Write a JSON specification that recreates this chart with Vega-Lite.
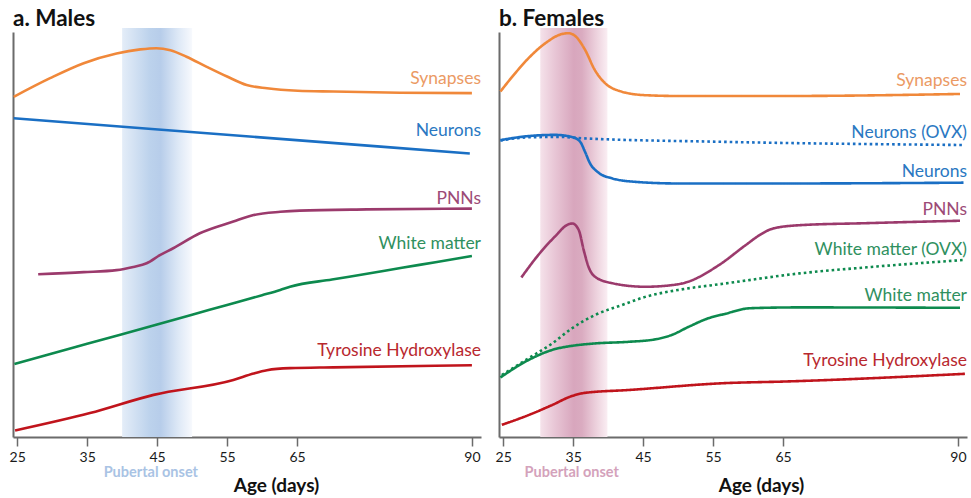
{
  "$schema": "https://vega.github.io/schema/vega-lite/v6.json",
  "background": "white",
  "padding": {"left": 8, "top": 8, "right": 2, "bottom": 0},
  "spacing": 14,
  "config": {
    "font": "Lato",
    "view": {"stroke": null},
    "title": {"anchor": "start", "fontSize": 22.5, "fontWeight": "bold", "color": "#111111", "offset": -3, "baseline": "alphabetic", "frame": "group"}
  },
  "datasets": {
    "males": [
      {"series": "Synapses", "day": 24.5, "level": 84.0},
      {"series": "Synapses", "day": 29.7, "level": 88.6},
      {"series": "Synapses", "day": 34.5, "level": 92.3},
      {"series": "Synapses", "day": 39.2, "level": 94.7},
      {"series": "Synapses", "day": 42.6, "level": 95.7},
      {"series": "Synapses", "day": 44.9, "level": 96.0},
      {"series": "Synapses", "day": 46.9, "level": 95.5},
      {"series": "Synapses", "day": 49.2, "level": 93.9},
      {"series": "Synapses", "day": 52.1, "level": 91.4},
      {"series": "Synapses", "day": 55.0, "level": 89.0},
      {"series": "Synapses", "day": 57.8, "level": 86.9},
      {"series": "Synapses", "day": 60.7, "level": 86.1},
      {"series": "Synapses", "day": 65.1, "level": 85.5},
      {"series": "Synapses", "day": 70.2, "level": 85.3},
      {"series": "Synapses", "day": 79.7, "level": 85.0},
      {"series": "Synapses", "day": 90.0, "level": 84.9},
      {"series": "Neurons", "day": 24.5, "level": 78.7},
      {"series": "Neurons", "day": 44.7, "level": 76.0},
      {"series": "Neurons", "day": 89.7, "level": 70.0},
      {"series": "PNNs", "day": 28.0, "level": 40.2},
      {"series": "PNNs", "day": 34.5, "level": 40.7},
      {"series": "PNNs", "day": 39.2, "level": 41.2},
      {"series": "PNNs", "day": 41.6, "level": 42.0},
      {"series": "PNNs", "day": 43.5, "level": 42.9},
      {"series": "PNNs", "day": 45.4, "level": 44.9},
      {"series": "PNNs", "day": 47.3, "level": 46.6},
      {"series": "PNNs", "day": 51.1, "level": 50.3},
      {"series": "PNNs", "day": 55.9, "level": 53.2},
      {"series": "PNNs", "day": 58.8, "level": 54.8},
      {"series": "PNNs", "day": 62.6, "level": 55.6},
      {"series": "PNNs", "day": 65.4, "level": 55.9},
      {"series": "PNNs", "day": 75.0, "level": 56.2},
      {"series": "PNNs", "day": 90.0, "level": 56.4},
      {"series": "White matter", "day": 24.6, "level": 18.0},
      {"series": "White matter", "day": 30.0, "level": 20.6},
      {"series": "White matter", "day": 35.0, "level": 23.0},
      {"series": "White matter", "day": 40.0, "level": 25.4},
      {"series": "White matter", "day": 45.0, "level": 27.8},
      {"series": "White matter", "day": 50.0, "level": 30.2},
      {"series": "White matter", "day": 55.0, "level": 32.6},
      {"series": "White matter", "day": 60.0, "level": 35.0},
      {"series": "White matter", "day": 62.6, "level": 36.3},
      {"series": "White matter", "day": 64.0, "level": 37.1},
      {"series": "White matter", "day": 70.0, "level": 38.9},
      {"series": "White matter", "day": 75.0, "level": 40.3},
      {"series": "White matter", "day": 80.0, "level": 41.8},
      {"series": "White matter", "day": 85.0, "level": 43.2},
      {"series": "White matter", "day": 90.0, "level": 44.7},
      {"series": "Tyrosine Hydroxylase", "day": 24.7, "level": 1.6},
      {"series": "Tyrosine Hydroxylase", "day": 35.4, "level": 5.9},
      {"series": "Tyrosine Hydroxylase", "day": 44.5, "level": 10.4},
      {"series": "Tyrosine Hydroxylase", "day": 55.9, "level": 14.1},
      {"series": "Tyrosine Hydroxylase", "day": 58.8, "level": 15.7},
      {"series": "Tyrosine Hydroxylase", "day": 60.7, "level": 16.5},
      {"series": "Tyrosine Hydroxylase", "day": 64.0, "level": 17.0},
      {"series": "Tyrosine Hydroxylase", "day": 70.2, "level": 17.2},
      {"series": "Tyrosine Hydroxylase", "day": 90.0, "level": 17.7}
    ],
    "females": [
      {"series": "Synapses", "day": 24.6, "level": 85.3},
      {"series": "Synapses", "day": 26.7, "level": 89.8},
      {"series": "Synapses", "day": 28.6, "level": 93.5},
      {"series": "Synapses", "day": 31.0, "level": 97.2},
      {"series": "Synapses", "day": 33.4, "level": 99.5},
      {"series": "Synapses", "day": 34.3, "level": 99.7},
      {"series": "Synapses", "day": 35.3, "level": 99.0},
      {"series": "Synapses", "day": 36.7, "level": 95.6},
      {"series": "Synapses", "day": 38.1, "level": 90.6},
      {"series": "Synapses", "day": 39.6, "level": 87.3},
      {"series": "Synapses", "day": 41.5, "level": 85.5},
      {"series": "Synapses", "day": 45.3, "level": 84.4},
      {"series": "Synapses", "day": 50.0, "level": 84.2},
      {"series": "Synapses", "day": 65.3, "level": 84.2},
      {"series": "Synapses", "day": 90.3, "level": 84.7},
      {"series": "Neurons (OVX)", "day": 24.6, "level": 73.2},
      {"series": "Neurons (OVX)", "day": 28.6, "level": 74.0},
      {"series": "Neurons (OVX)", "day": 33.4, "level": 74.1},
      {"series": "Neurons (OVX)", "day": 35.8, "level": 73.8},
      {"series": "Neurons (OVX)", "day": 55.8, "level": 72.9},
      {"series": "Neurons (OVX)", "day": 90.8, "level": 72.1},
      {"series": "Neurons", "day": 24.6, "level": 73.3},
      {"series": "Neurons", "day": 28.6, "level": 74.3},
      {"series": "Neurons", "day": 32.4, "level": 74.6},
      {"series": "Neurons", "day": 34.8, "level": 74.1},
      {"series": "Neurons", "day": 36.0, "level": 72.9},
      {"series": "Neurons", "day": 36.7, "level": 70.4},
      {"series": "Neurons", "day": 37.4, "level": 67.6},
      {"series": "Neurons", "day": 38.6, "level": 65.3},
      {"series": "Neurons", "day": 40.5, "level": 63.9},
      {"series": "Neurons", "day": 43.9, "level": 63.0},
      {"series": "Neurons", "day": 50.0, "level": 62.6},
      {"series": "Neurons", "day": 65.3, "level": 62.6},
      {"series": "Neurons", "day": 90.8, "level": 62.8},
      {"series": "PNNs", "day": 27.6, "level": 39.4},
      {"series": "PNNs", "day": 30.0, "level": 44.9},
      {"series": "PNNs", "day": 32.4, "level": 49.5},
      {"series": "PNNs", "day": 34.3, "level": 52.5},
      {"series": "PNNs", "day": 34.9, "level": 52.7},
      {"series": "PNNs", "day": 35.8, "level": 51.1},
      {"series": "PNNs", "day": 36.5, "level": 46.2},
      {"series": "PNNs", "day": 37.2, "level": 42.0},
      {"series": "PNNs", "day": 38.1, "level": 39.6},
      {"series": "PNNs", "day": 40.5, "level": 38.0},
      {"series": "PNNs", "day": 45.3, "level": 37.1},
      {"series": "PNNs", "day": 49.1, "level": 37.5},
      {"series": "PNNs", "day": 51.0, "level": 38.1},
      {"series": "PNNs", "day": 55.8, "level": 42.4},
      {"series": "PNNs", "day": 59.6, "level": 47.3},
      {"series": "PNNs", "day": 61.7, "level": 49.9},
      {"series": "PNNs", "day": 63.6, "level": 51.5},
      {"series": "PNNs", "day": 67.4, "level": 52.3},
      {"series": "PNNs", "day": 77.0, "level": 52.8},
      {"series": "PNNs", "day": 90.3, "level": 53.4},
      {"series": "White matter (OVX)", "day": 24.8, "level": 15.3},
      {"series": "White matter (OVX)", "day": 28.6, "level": 19.4},
      {"series": "White matter (OVX)", "day": 32.0, "level": 23.1},
      {"series": "White matter (OVX)", "day": 34.8, "level": 26.8},
      {"series": "White matter (OVX)", "day": 38.1, "level": 30.1},
      {"series": "White matter (OVX)", "day": 42.0, "level": 32.6},
      {"series": "White matter (OVX)", "day": 45.3, "level": 34.6},
      {"series": "White matter (OVX)", "day": 50.0, "level": 36.3},
      {"series": "White matter (OVX)", "day": 56.7, "level": 37.9},
      {"series": "White matter (OVX)", "day": 67.4, "level": 40.4},
      {"series": "White matter (OVX)", "day": 77.0, "level": 41.9},
      {"series": "White matter (OVX)", "day": 90.8, "level": 43.7},
      {"series": "White matter", "day": 24.6, "level": 14.7},
      {"series": "White matter", "day": 28.6, "level": 19.0},
      {"series": "White matter", "day": 32.4, "level": 21.7},
      {"series": "White matter", "day": 34.8, "level": 22.5},
      {"series": "White matter", "day": 38.1, "level": 23.1},
      {"series": "White matter", "day": 42.9, "level": 23.5},
      {"series": "White matter", "day": 46.7, "level": 24.1},
      {"series": "White matter", "day": 49.1, "level": 25.2},
      {"series": "White matter", "day": 51.5, "level": 27.2},
      {"series": "White matter", "day": 54.3, "level": 29.3},
      {"series": "White matter", "day": 56.7, "level": 30.4},
      {"series": "White matter", "day": 60.3, "level": 31.8},
      {"series": "White matter", "day": 67.4, "level": 32.0},
      {"series": "White matter", "day": 90.3, "level": 31.9},
      {"series": "Tyrosine Hydroxylase", "day": 24.8, "level": 3.0},
      {"series": "Tyrosine Hydroxylase", "day": 28.6, "level": 5.4},
      {"series": "Tyrosine Hydroxylase", "day": 32.0, "level": 7.9},
      {"series": "Tyrosine Hydroxylase", "day": 34.8, "level": 10.1},
      {"series": "Tyrosine Hydroxylase", "day": 36.7, "level": 10.9},
      {"series": "Tyrosine Hydroxylase", "day": 42.9, "level": 11.6},
      {"series": "Tyrosine Hydroxylase", "day": 56.7, "level": 13.3},
      {"series": "Tyrosine Hydroxylase", "day": 65.3, "level": 13.7},
      {"series": "Tyrosine Hydroxylase", "day": 91.0, "level": 15.6}
    ],
    "malesLabels": [
      {"series": "Synapses", "day": 91.3, "level": 87.2},
      {"series": "Neurons", "day": 91.3, "level": 74.3},
      {"series": "PNNs", "day": 91.3, "level": 57.5},
      {"series": "White matter", "day": 91.3, "level": 46.5},
      {"series": "Tyrosine Hydroxylase", "day": 91.3, "level": 20.0}
    ],
    "femalesLabels": [
      {"series": "Synapses", "day": 91.3, "level": 86.7},
      {"series": "Neurons (OVX)", "day": 91.3, "level": 73.8},
      {"series": "Neurons", "day": 91.3, "level": 64.1},
      {"series": "PNNs", "day": 91.3, "level": 54.8},
      {"series": "White matter (OVX)", "day": 91.3, "level": 44.9},
      {"series": "White matter", "day": 91.3, "level": 33.7},
      {"series": "Tyrosine Hydroxylase", "day": 91.3, "level": 17.5}
    ]
  },
  "hconcat": [
    {
      "title": {"text": "a. Males"},
      "width": 468,
      "height": 405,
      "resolve": {"scale": {"color": "independent"}},
      "layer": [
        {
          "data": {"values": [{"start": 40, "end": 50}]},
          "mark": {"type": "rect", "fill": {"gradient": "linear", "x1": 0, "y1": 0, "x2": 1, "y2": 0, "stops": [
            {"offset": 0, "color": "#e4edf8"},
            {"offset": 0.4, "color": "#bcd2ec"},
            {"offset": 0.55, "color": "#b7cdea"},
            {"offset": 0.8, "color": "#dde8f6"},
            {"offset": 1, "color": "#f7f9fd"}
          ]}},
          "encoding": {
            "x": {"field": "start", "type": "quantitative", "scale": {"domain": [24.4, 91.3], "nice": false, "zero": false},
              "axis": {"values": [25, 35, 45, 55, 65, 90], "title": "Age (days)", "grid": false, "domainColor": "#6b6b6b", "domainWidth": 2, "tickColor": "#6b6b6b", "tickWidth": 1.5, "tickSize": 9, "labelFontSize": 14, "labelColor": "#1a1a1a", "labelPadding": 4, "titleFontSize": 19, "titleFontWeight": "bold", "titleColor": "#111111", "titleX": 263, "titleY": 54, "titleBaseline": "alphabetic", "titleAlign": "center"}},
            "x2": {"field": "end"},
            "y": {"datum": 101, "type": "quantitative", "scale": {"domain": [0, 100], "nice": false, "zero": false},
              "axis": {"title": null, "labels": false, "ticks": false, "grid": false, "domainColor": "#6b6b6b", "domainWidth": 2, "minExtent": 0, "maxExtent": 0}},
            "y2": {"datum": 0}
          }
        },
        {
          "data": {"values": [{"day": 44.1, "level": -9.9, "note": "Pubertal onset"}]},
          "mark": {"type": "text", "align": "center", "baseline": "alphabetic", "fontSize": 14.5, "fontWeight": "bold", "color": "#a9c3e4"},
          "encoding": {
            "x": {"field": "day", "type": "quantitative"},
            "y": {"field": "level", "type": "quantitative"},
            "text": {"field": "note"}
          }
        },
        {
          "data": {"name": "males"},
          "mark": {"type": "line", "strokeWidth": 2.6, "interpolate": "monotone"},
          "encoding": {
            "x": {"field": "day", "type": "quantitative"},
            "y": {"field": "level", "type": "quantitative"},
            "color": {"field": "series", "type": "nominal", "legend": null,
              "scale": {"domain": ["Synapses", "Neurons", "PNNs", "White matter", "Tyrosine Hydroxylase"],
                "range": ["#f0883a", "#1a6fc4", "#9b3a6c", "#0d8a4e", "#c0141c"]}}
          }
        },
        {
          "data": {"name": "malesLabels"},
          "mark": {"type": "text", "align": "right", "baseline": "alphabetic", "fontSize": 17.5},
          "encoding": {
            "x": {"field": "day", "type": "quantitative"},
            "y": {"field": "level", "type": "quantitative"},
            "text": {"field": "series"},
            "color": {"field": "series", "type": "nominal", "legend": null,
              "scale": {"domain": ["Synapses", "Neurons", "PNNs", "White matter", "Tyrosine Hydroxylase"],
                "range": ["#eb9a64", "#2a78c2", "#9c4a76", "#2f9060", "#b8282e"]}}
          }
        }
      ]
    },
    {
      "title": {"text": "b. Females"},
      "width": 468,
      "height": 405,
      "resolve": {"scale": {"color": "independent"}},
      "layer": [
        {
          "data": {"values": [{"start": 30.3, "end": 39.9}]},
          "mark": {"type": "rect", "fill": {"gradient": "linear", "x1": 0, "y1": 0, "x2": 1, "y2": 0, "stops": [
            {"offset": 0, "color": "#f5e2ea"},
            {"offset": 0.2, "color": "#e9c8d7"},
            {"offset": 0.5, "color": "#d8a6bd"},
            {"offset": 0.62, "color": "#daabc0"},
            {"offset": 0.85, "color": "#eed4df"},
            {"offset": 1, "color": "#faeef3"}
          ]}},
          "encoding": {
            "x": {"field": "start", "type": "quantitative", "scale": {"domain": [24.4, 91.3], "nice": false, "zero": false},
              "axis": {"values": [25, 35, 45, 55, 65, 90], "title": "Age (days)", "grid": false, "domainColor": "#6b6b6b", "domainWidth": 2, "tickColor": "#6b6b6b", "tickWidth": 1.5, "tickSize": 9, "labelFontSize": 14, "labelColor": "#1a1a1a", "labelPadding": 4, "titleFontSize": 19, "titleFontWeight": "bold", "titleColor": "#111111", "titleX": 262, "titleY": 54, "titleBaseline": "alphabetic", "titleAlign": "center"}},
            "x2": {"field": "end"},
            "y": {"datum": 101, "type": "quantitative", "scale": {"domain": [0, 100], "nice": false, "zero": false},
              "axis": {"title": null, "labels": false, "ticks": false, "grid": false, "domainColor": "#6b6b6b", "domainWidth": 2, "minExtent": 0, "maxExtent": 0}},
            "y2": {"datum": 0}
          }
        },
        {
          "data": {"values": [{"day": 34.8, "level": -9.9, "note": "Pubertal onset"}]},
          "mark": {"type": "text", "align": "center", "baseline": "alphabetic", "fontSize": 14.5, "fontWeight": "bold", "color": "#d4a2bb"},
          "encoding": {
            "x": {"field": "day", "type": "quantitative"},
            "y": {"field": "level", "type": "quantitative"},
            "text": {"field": "note"}
          }
        },
        {
          "data": {"name": "females"},
          "mark": {"type": "line", "strokeWidth": 2.6, "interpolate": "monotone"},
          "encoding": {
            "x": {"field": "day", "type": "quantitative"},
            "y": {"field": "level", "type": "quantitative"},
            "color": {"field": "series", "type": "nominal", "legend": null,
              "scale": {"domain": ["Synapses", "Neurons (OVX)", "Neurons", "PNNs", "White matter (OVX)", "White matter", "Tyrosine Hydroxylase"],
                "range": ["#f0883a", "#1a6fc4", "#1a6fc4", "#9b3a6c", "#0d8a4e", "#0d8a4e", "#c0141c"]}},
            "strokeDash": {"field": "series", "type": "nominal", "legend": null,
              "scale": {"domain": ["Synapses", "Neurons (OVX)", "Neurons", "PNNs", "White matter (OVX)", "White matter", "Tyrosine Hydroxylase"],
                "range": [[1, 0], [2.6, 3], [1, 0], [1, 0], [2.6, 3], [1, 0], [1, 0]]}}
          }
        },
        {
          "data": {"name": "femalesLabels"},
          "mark": {"type": "text", "align": "right", "baseline": "alphabetic", "fontSize": 17.5},
          "encoding": {
            "x": {"field": "day", "type": "quantitative"},
            "y": {"field": "level", "type": "quantitative"},
            "text": {"field": "series"},
            "color": {"field": "series", "type": "nominal", "legend": null,
              "scale": {"domain": ["Synapses", "Neurons (OVX)", "Neurons", "PNNs", "White matter (OVX)", "White matter", "Tyrosine Hydroxylase"],
                "range": ["#eb9a64", "#2a78c2", "#2a78c2", "#9c4a76", "#2f9060", "#2f9060", "#b8282e"]}}
          }
        }
      ]
    }
  ]
}
